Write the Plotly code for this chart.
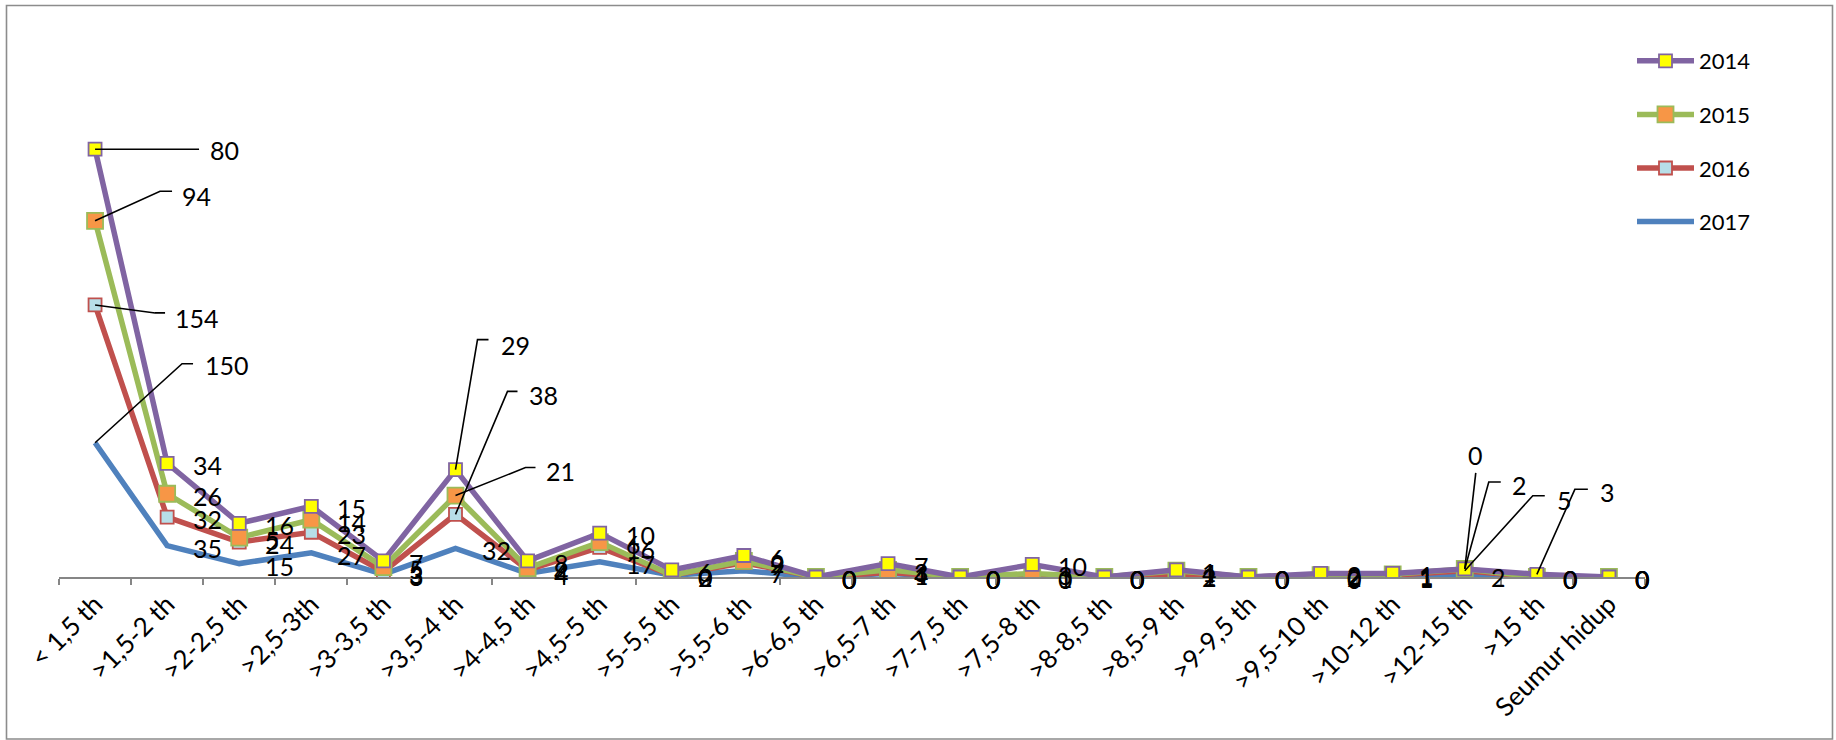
import numpy as np
import plotly.graph_objects as go

# Masa kerja categories (x axis)
categories = ["< 1,5 th", ">1,5-2 th", ">2-2,5 th", ">2,5-3th", ">3-3,5 th", ">3,5-4 th",
              ">4-4,5 th", ">4,5-5 th", ">5-5,5 th", ">5,5-6 th", ">6-6,5 th", ">6,5-7 th",
              ">7-7,5 th", ">7,5-8 th", ">8-8,5 th", ">8,5-9 th", ">9-9,5 th", ">9,5-10 th",
              ">10-12 th", ">12-15 th", ">15 th", "Seumur hidup"]

# Yearly counts per category (stacked in the chart: 2017 at the bottom)
v2014 = [80, 34, 16, 15, 7, 29, 8, 10, 6, 6, 0, 7, 0, 10, 0, 1, 0, 2, 1, 0, 3, 0]
v2015 = [94, 26, 5, 14, 5, 21, 2, 6, 0, 2, 0, 3, 0, 3, 0, 4, 0, 0, 1, 2, 0, 0]
v2016 = [154, 32, 24, 23, 3, 38, 4, 16, 0, 9, 0, 1, 0, 1, 0, 1, 0, 2, 1, 5, 0, 0]
v2017 = [150, 35, 15, 27, 3, 32, 4, 17, 2, 7, 0, 4, 0, 0, 0, 2, 0, 0, 1, 2, 0, 0]

years = ["2014", "2015", "2016", "2017"]

# ---- page geometry ----
W, H = 1836, 740
ML, MR, MT, MB = 59, 191, 60, 163
PW, PH = W - ML - MR, H - MT - MB
Y_MAX = PH / 0.895
FONT = "Lato, Open Sans, sans-serif"
LABEL_SIZE = 25

# stacked running totals, bottom series first
c2017 = np.array(v2017)
c2016 = c2017 + np.array(v2016)
c2015 = c2016 + np.array(v2015)
c2014 = c2015 + np.array(v2014)

series = {
    "2017": dict(vals=v2017, cum=c2017, line="#4F81BD", marker=None, rank=4),
    "2016": dict(vals=v2016, cum=c2016, line="#C0504D", rank=3,
                 marker=dict(symbol="square", size=13, color="#B7DEE8",
                             line=dict(color="#C0504D", width=1.8))),
    "2015": dict(vals=v2015, cum=c2015, line="#9BBB59", rank=2,
                 marker=dict(symbol="square", size=16, color="#F79646",
                             line=dict(color="#9BBB59", width=1.8))),
    "2014": dict(vals=v2014, cum=c2014, line="#8064A2", rank=1,
                 marker=dict(symbol="square", size=13, color="#FFFF00",
                             line=dict(color="#8064A2", width=1.8))),
}

fig = go.Figure()
for name in ["2017", "2016", "2015", "2014"]:
    s = series[name]
    kw = dict(mode="lines")
    if s["marker"] is not None:
        kw = dict(mode="lines+markers", marker=s["marker"])
    fig.add_trace(go.Scatter(
        x=categories, y=s["cum"], name=name, legendgroup=name, legendrank=s["rank"],
        line=dict(color=s["line"], width=5.5), **kw))

# labels moved off their points, with leader lines:
# (year, category index) -> elbow offset (dx, dy), elbow tail, text offset (tx, ty), anchor
leaders = {
    ("2014", 0): ((104, 0), 0, (113, 1), "left"),
    ("2015", 0): ((65, -29.5), 12, (85, -25), "left"),
    ("2016", 0): ((60, 8), 10, (78, 13), "left"),
    ("2017", 0): ((87, -79), 11, (108, -78), "left"),
    ("2014", 5): ((22, -130), 11, (43, -125), "left"),
    ("2016", 5): ((52, -123), 10, (71, -119), "left"),
    ("2015", 5): ((70, -28), 10, (88, -25), "left"),
    ("2014", 19): ((11, -96), 0, (11, -114), "center"),
    ("2015", 19): ((24, -87), 12, (45, -84), "left"),
    ("2016", 19): ((68, -75), 12, (90, -71), "left"),
    ("2014", 20): ((38, -85), 13, (61, -82), "left"),
}

annotations = []
shapes = []
for name in years:
    s = series[name]
    for i, cat in enumerate(categories):
        val = s["vals"][i]
        yv = float(s["cum"][i])
        key = (name, i)
        if key in leaders:
            (ex, ey), tail, (tx, ty), anchor = leaders[key]
            path = f"M0,0 L{ex},{-ey}"
            if tail:
                path += f" L{ex + tail},{-ey}"
            shapes.append(dict(type="path", xref="x", yref="y",
                               xsizemode="pixel", ysizemode="pixel",
                               xanchor=cat, yanchor=yv, path=path,
                               line=dict(color="black", width=1.6)))
            annotations.append(dict(x=cat, y=yv, text=str(val), showarrow=False,
                                    xanchor=anchor, yanchor="middle",
                                    xshift=tx, yshift=-ty,
                                    font=dict(family=FONT, size=LABEL_SIZE, color="black")))
        else:
            annotations.append(dict(x=cat, y=yv, text=str(val), showarrow=False,
                                    xanchor="left", yanchor="middle",
                                    xshift=24, yshift=-2,
                                    font=dict(family=FONT, size=LABEL_SIZE, color="black")))

# outer chart border
def px_x(p):
    return (p - ML) / PW

def px_y(p):
    return (H - MB - p) / PH

shapes.append(dict(type="rect", xref="paper", yref="paper",
                   x0=px_x(6.5), x1=px_x(1832.5), y0=px_y(739), y1=px_y(5.5),
                   line=dict(color="#8C8C8C", width=1.6), layer="below"))

fig.update_layout(
    width=W, height=H,
    margin=dict(l=ML, r=MR, t=MT, b=MB, autoexpand=False),
    paper_bgcolor="white", plot_bgcolor="white",
    font=dict(family=FONT, size=22, color="black"),
    showlegend=True,
    legend=dict(x=px_x(1632), y=px_y(40), xanchor="left", yanchor="top",
                traceorder="grouped", tracegroupgap=22,
                itemwidth=57, font=dict(family=FONT, size=22, color="black"),
                bgcolor="rgba(0,0,0,0)"),
    xaxis=dict(type="category", range=[-0.5, len(categories) - 0.5],
               automargin=False,
               tickson="boundaries", ticks="outside", ticklen=6,
               tickcolor="#868686", tickwidth=1.5,
               showline=True, linecolor="#868686", linewidth=1.5,
               showgrid=False, zeroline=False, tickangle=-45,
               ticklabelstandoff=0,
               tickfont=dict(family=FONT, size=26, color="black")),
    yaxis=dict(range=[0, Y_MAX], visible=False, showgrid=False, zeroline=False,
               automargin=False),
    annotations=annotations,
    shapes=shapes,
)

fig.write_html("out.html")
